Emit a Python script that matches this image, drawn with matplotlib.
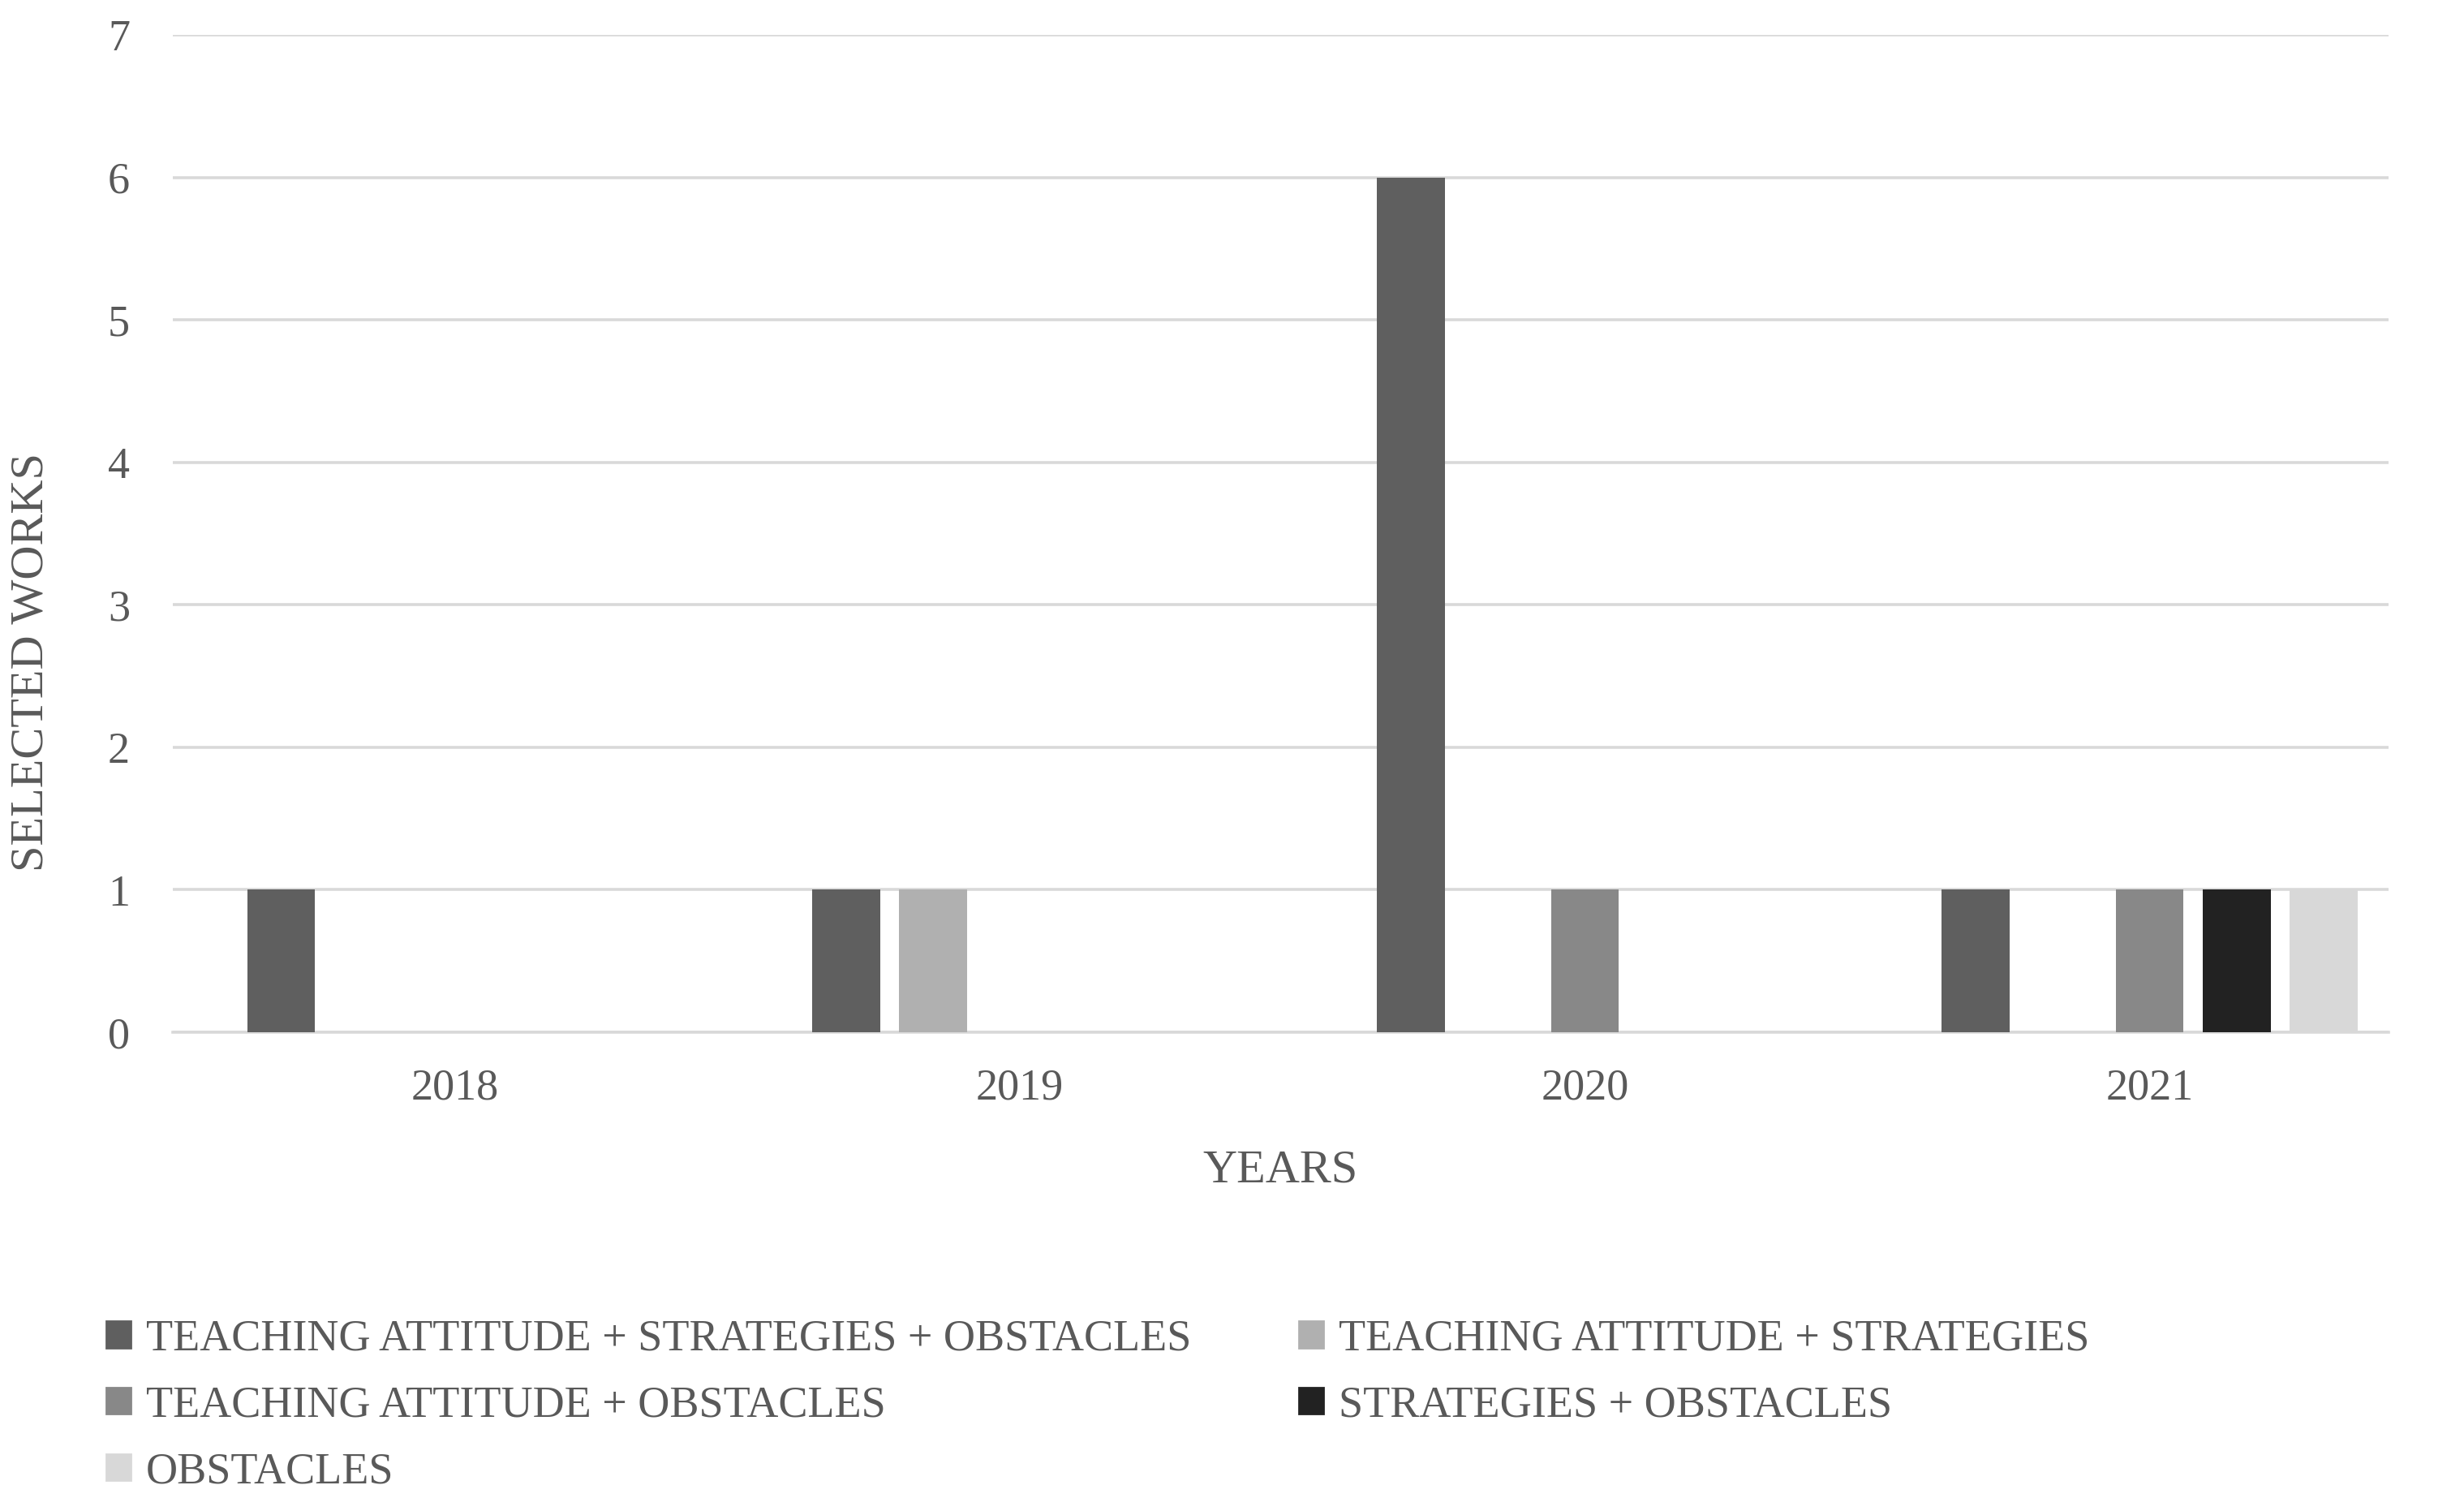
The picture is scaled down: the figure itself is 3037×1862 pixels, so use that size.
import numpy as np
import matplotlib.pyplot as plt
from matplotlib.patches import Patch

# data
years = ['2018', '2019', '2020', '2021']
series_names = ['TEACHING ATTITUDE + STRATEGIES + OBSTACLES',
                'TEACHING ATTITUDE + STRATEGIES',
                'TEACHING ATTITUDE + OBSTACLES',
                'STRATEGIES + OBSTACLES',
                'OBSTACLES']
att_str_obs = [1, 1, 6, 1]
att_str = [0, 1, 0, 0]
att_obs = [0, 0, 1, 1]
str_obs = [0, 0, 0, 1]
obs = [0, 0, 0, 1]
values = [att_str_obs, att_str, att_obs, str_obs, obs]
colors = ['#5f5f5f', '#b0b0b0', '#888888', '#222222', '#d8d8d8']

txt = '#595959'
plt.rcParams['font.family'] = ['Liberation Serif', 'DejaVu Serif']

fig = plt.figure(figsize=(15.185, 9.31), dpi=200)
ax = fig.add_axes([0.0701, 0.3169, 0.8993, 0.66])

x = np.arange(len(years))
pitch = 0.154
width = 0.12
for i, vals in enumerate(values):
    ax.bar(x + (i - 2) * pitch, vals, width, color=colors[i], zorder=3)

ax.set_xlim(-0.5, 3.423)
ax.set_ylim(0, 7)
ax.set_yticks(range(8))
ax.set_xticks(x)
ax.set_xticklabels(years)
ax.yaxis.grid(True, color='#d9d9d9', lw=1.3, zorder=0)
for s in ['top', 'right', 'left']:
    ax.spines[s].set_visible(False)
ax.spines['bottom'].set_color('#d9d9d9')
ax.spines['bottom'].set_linewidth(1.3)
ax.tick_params(axis='both', length=0, labelsize=19.5, colors=txt)
ax.tick_params(axis='x', pad=16)
ax.tick_params(axis='y', pad=19)

ax.set_xlabel('YEARS', fontsize=21, color=txt, labelpad=18)
ax.set_ylabel('SELECTED WORKS', fontsize=21, color=txt)
ax.yaxis.set_label_coords(-0.0545, 0.371)

# legend: matplotlib fills columns first, so reorder
order = [0, 2, 4, 1, 3]
handles = [Patch(color=colors[i]) for i in order]
labels = [series_names[i] for i in order]
fig.legend(handles, labels, loc='upper left', bbox_to_anchor=(0.036, 0.139),
           ncol=2, frameon=False, fontsize=19.5, labelcolor=txt,
           handlelength=0.55, handleheight=0.55, handletextpad=0.35,
           columnspacing=2.45, labelspacing=0.58, borderaxespad=0)

fig.savefig('out.png')
